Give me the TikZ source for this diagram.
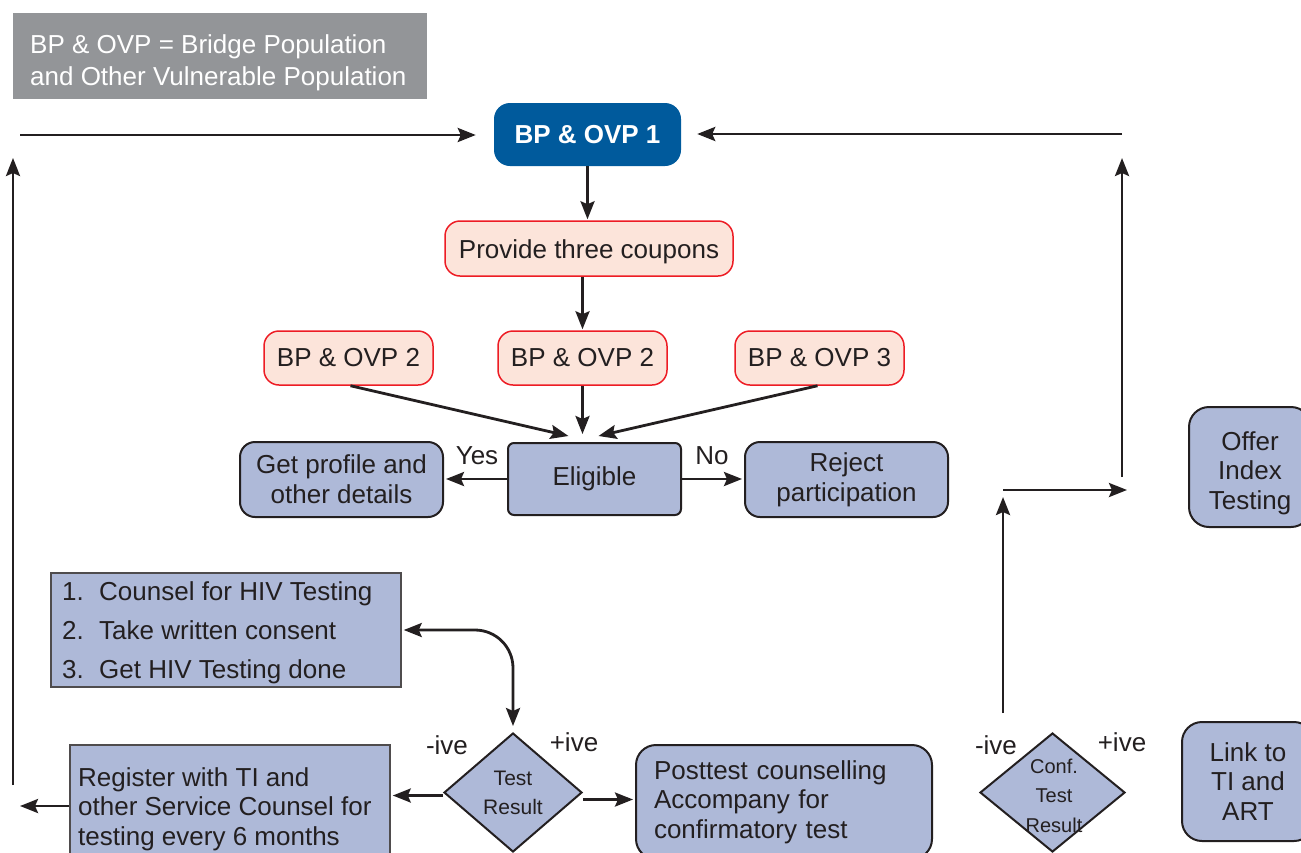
\documentclass[tikz,border=0pt]{standalone}
\usepackage{fontspec}
\setmainfont{Liberation Sans}
\usetikzlibrary{arrows.meta,shapes.geometric,calc}
\definecolor{lav}{RGB}{174,185,216}
\definecolor{peach}{RGB}{252,228,218}
\definecolor{redc}{RGB}{237,28,36}
\definecolor{navy}{RGB}{0,90,156}
\definecolor{legendg}{RGB}{147,149,152}
\definecolor{inkc}{RGB}{35,31,32}
\newcommand{\fsA}{\fontsize{26}{30}\selectfont}
\newcommand{\fsB}{\fontsize{21}{29}\selectfont}
\begin{document}
\begin{tikzpicture}[x=1pt,y=-1pt,
  ln/.style={line width=2.8pt, draw=inkc},
  arr/.style={ln, -{Stealth[length=18pt,width=14pt,inset=3pt]}},
  darr/.style={ln, {Stealth[length=18pt,width=14pt,inset=3pt]}-{Stealth[length=18pt,width=14pt,inset=3pt]}},
  pinkbox/.style={draw=redc, fill=peach, line width=1.5pt, rounded corners=15pt, minimum height=54pt, text=inkc, font=\fsA, inner sep=0pt},
  lavbox/.style={draw=inkc, fill=lav, line width=2pt, rounded corners=15pt, text=inkc, font=\fsA, inner sep=0pt, align=center},
  sqbox/.style={draw=inkc!80, fill=lav, line width=1.5pt, inner sep=0pt},
  dia/.style={diamond, draw=inkc, fill=lav, line width=2pt, inner sep=0pt, text=inkc, font=\fsB, align=center},
  txt/.style={text=inkc, font=\fsA, inner sep=0pt},
  lbl/.style={text=inkc, font=\fsA, inner sep=0pt}
]
\useasboundingbox (0,0) rectangle (1301,852);
\clip (0,0) rectangle (1301,852);

% legend
\node[fill=legendg, minimum width=414pt, minimum height=86pt, inner sep=0pt] (legend) at (220,56) {};
\node[text=white, font=\fontsize{26}{32}\selectfont, align=left, anchor=west, inner sep=0pt] (legendtxt) at (30,63)
  {BP \& OVP = Bridge Population\\and Other Vulnerable Population};

% top
\node[fill=navy, text=white, font=\bfseries\fsA, rounded corners=16pt, minimum width=187pt, minimum height=63pt, inner sep=0pt] (bp1) at (587.5,134.5) {BP \& OVP 1};
\node[pinkbox, minimum width=288pt, minimum height=55pt] (coup) at (589,248.5) {};
\node[txt] (couptxt) at (589,251.5) {Provide three coupons};
\node[pinkbox, minimum width=169pt] (bpa) at (348.5,358) {BP \& OVP 2};
\node[pinkbox, minimum width=169pt] (bpb) at (582.5,358) {BP \& OVP 2};
\node[pinkbox, minimum width=169pt] (bpc) at (819.5,358) {BP \& OVP 3};

\node[lavbox, rounded corners=6pt, minimum width=173pt, minimum height=72pt] (elig) at (594.5,479) {Eligible};
\node[lavbox, minimum width=203pt, minimum height=75pt] (prof) at (341.5,479.5) {Get profile and\\other details};
\node[lavbox, minimum width=203pt, minimum height=75pt] (rej) at (846.5,479.5) {Reject\\participation};

% counsel
\node[sqbox, minimum width=350pt, minimum height=114pt] (couns) at (226,630) {};
\node[txt, anchor=west, align=left, font=\fontsize{26}{39}\selectfont] (counstxt) at (62,633)
  {\makebox[37pt][l]{1.}Counsel for HIV Testing\\\makebox[37pt][l]{2.}Take written consent\\\makebox[37pt][l]{3.}Get HIV Testing done};

\node[dia, minimum width=138pt, minimum height=119pt] (tres) at (513,792.5) {Test\\Result};
\node[sqbox, minimum width=320pt, minimum height=122pt] (reg) at (230,806) {};
\node[txt, anchor=west, align=left, font=\fontsize{26}{29.5}\selectfont] (regtxt) at (78,809)
  {Register with TI and\\other Service Counsel for\\testing every 6 months};
\node[lavbox, rounded corners=20pt, align=left, minimum width=296pt, minimum height=114pt, text width=260pt, font=\fontsize{26}{29.5}\selectfont] (post) at (784,802)
  {Posttest counselling\\Accompany for\\confirmatory test};

\node[dia, minimum width=145pt, minimum height=119pt] (cres) at (1052.5,792.5) {};
\node[txt, align=center, font=\fontsize{20}{29.5}\selectfont] (crestxt) at (1054,795.5) {Conf.\\Test\\Result};

\node[lavbox, rounded corners=20pt, minimum width=122pt, minimum height=120pt] (offer) at (1250,467) {};
\node[txt, align=center, font=\fontsize{26}{29.5}\selectfont] (offertxt) at (1250,473) {Offer\\Index\\Testing};
\node[lavbox, rounded corners=20pt, minimum width=132pt, minimum height=119pt, font=\fontsize{26}{29.5}\selectfont] (link) at (1248,781.5) {Link to\\TI and\\ART};

% labels
\node[lbl] (yes) at (477,456) {Yes};
\node[lbl] (no) at (712,456) {No};
\node[lbl] (n1) at (447,745) {-ive};
\node[lbl] (p1) at (574,742) {+ive};
\node[lbl] (n2) at (996,745) {-ive};
\node[lbl] (p2) at (1122,742) {+ive};

% free ends
\coordinate (tl) at (20,135);
\coordinate (tr) at (1122,134);
\coordinate (lvb) at (13,785);
\coordinate (lvt) at (13,158);
\coordinate (regout) at (20,806);
\coordinate (rv1b) at (1003,713);
\coordinate (rv1t) at (1003,497);
\coordinate (rh1a) at (1003,490);
\coordinate (rh1b) at (1127,490);
\coordinate (rv2b) at (1122,477);
\coordinate (rv2t) at (1122,158);

% connectors
\draw[arr, shorten >=18pt] (tl) -- (tl -| bp1.west);
\draw[arr, shorten >=16pt] (tr) -- (tr -| bp1.east);
\draw[arr] (lvb) -- (lvt);
\draw[arr, shorten >=1pt] (bp1.south) -- (bp1.south |- coup.north);
\draw[arr, shorten >=1pt] (bpb.south |- coup.south) -- (bpb.north);
\draw[arr] ($(bpa.south)+(2,0)$) -- ($(elig.north)+(-26,-6)$);
\draw[arr] (bpb.south) -- ($(bpb.south |- elig.north)+(0,-8)$);
\draw[arr] ($(bpc.south)+(-2,0)$) -- ($(elig.north)+(4,-6)$);
\draw[arr, shorten >=2pt] (elig.west) -- (elig.west -| prof.east);
\draw[arr, shorten >=2pt] (elig.east) -- (elig.east -| rej.west);
\draw[darr, rounded corners=38pt, shorten >=6pt, shorten <=2pt] (couns.east) -- (couns.east -| tres.north) -- (tres.north);
\draw[arr, shorten >=2pt] ($(tres.west)+(0,3)$) -- ($(tres.west -| reg.east)+(0,3)$);
\draw[arr] (reg.west) -- (regout);
\draw[arr, shorten >=2pt] ($(tres.east)+(0,7)$) -- ($(tres.east -| post.west)+(0,7)$);
\draw[arr] (rv1b) -- (rv1t);
\draw[arr] (rh1a) -- (rh1b);
\draw[arr] (rv2b) -- (rv2t);
\end{tikzpicture}
\end{document}
